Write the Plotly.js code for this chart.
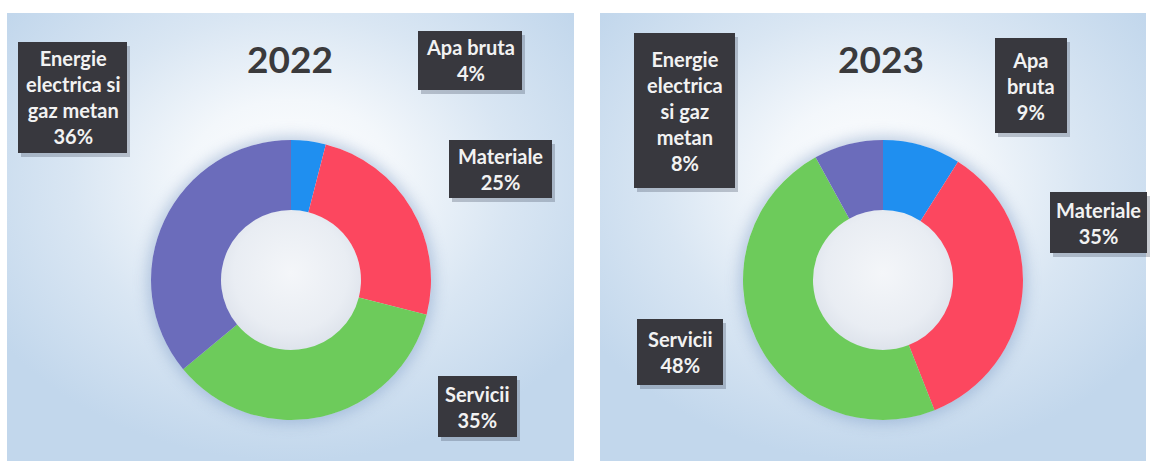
<!DOCTYPE html>
<html>
<head>
<meta charset="utf-8">
<script src="https://cdn.plot.ly/plotly-3.0.1.min.js"></script>
<style>
  html, body { margin: 0; padding: 0; background: #ffffff; width: 1151px; height: 463px; overflow: hidden; }
  .panel { position: absolute; }
  #p1 { left: 7px; top: 13px; width: 567px; height: 448px;
        background: radial-gradient(ellipse 62% 62% at 50% 38%, #ffffff 0%, #f3f7fb 30%, #d9e6f3 62%, #c2d7ec 100%); }
  #p2 { left: 600px; top: 13px; width: 546px; height: 448px;
        background: radial-gradient(ellipse 62% 62% at 50% 38%, #ffffff 0%, #f3f7fb 30%, #d9e6f3 62%, #c2d7ec 100%); }
  .glow { position: absolute; border-radius: 50%; box-shadow: 0 0 14px 4px rgba(120,150,195,0.45); }
  .hole { position: absolute; border-radius: 50%;
          background: radial-gradient(circle at 50% 45%, #f4f6f9 0%, #e9edf3 55%, #cfd6e2 100%); }
  #chart { position: absolute; left: 0; top: 0; width: 1151px; height: 463px; }
</style>
</head>
<body>
<div class="panel" id="p1"></div>
<div class="panel" id="p2"></div>
<div class="glow" style="left:151px;top:140px;width:280px;height:280px;"></div>
<div class="glow" style="left:743px;top:140px;width:280px;height:280px;"></div>
<div class="hole" style="left:221px;top:210px;width:140px;height:140px;"></div>
<div class="hole" style="left:813px;top:210px;width:140px;height:140px;"></div>
<div id="chart"></div>
<script>
// ---- data ----
const categories = ["Apa bruta", "Materiale", "Servicii", "Energie electrica si gaz metan"];
const values2022 = [4, 25, 35, 36];
const values2023 = [9, 35, 48, 8];
const labelText2022 = ["Apa bruta", "Materiale", "Servicii", "Energie<br>electrica si<br>gaz metan"];
const labelText2023 = ["Apa<br>bruta", "Materiale", "Servicii", "Energie<br>electrica<br>si gaz<br>metan"];
const years = ["2022", "2023"];
const sliceColors = ["#1f8ff0", "#fc475f", "#6dcb5b", "#6b6cbb"];

// ---- layout config (pixel positions) ----
const W = 1151, H = 463;
const donutBoxes = [[151, 140, 431, 420], [743, 140, 1023, 420]];
const titlePos = [[290, 59], [881, 59]];
const labelBoxes = [
  [[418, 31, 522, 90], [449, 140, 552, 198], [438, 376, 517, 437], [18, 42, 127, 153]],
  [[995, 38, 1067, 133], [1050, 192, 1147, 253], [637, 319, 723, 385], [634, 33, 735, 188]]
];

const px = x => x / W;
const py = y => 1 - y / H;

const valueSets = [values2022, values2023];
const textSets = [labelText2022, labelText2023];

const traces = valueSets.map((vals, i) => ({
  type: "pie",
  labels: categories,
  values: vals,
  hole: 0.5,
  sort: false,
  direction: "clockwise",
  rotation: 0,
  textinfo: "none",
  hoverinfo: "label+percent",
  marker: { colors: sliceColors, line: { width: 0 } },
  domain: { x: [px(donutBoxes[i][0]), px(donutBoxes[i][2])], y: [py(donutBoxes[i][3]), py(donutBoxes[i][1])] },
  showlegend: false
}));

const shapes = [];
const annotations = [];
years.forEach((yr, i) => {
  annotations.push({
    xref: "paper", yref: "paper", x: px(titlePos[i][0]), y: py(titlePos[i][1]),
    xanchor: "center", yanchor: "middle", showarrow: false, text: yr,
    font: { family: "Lato, 'Open Sans', sans-serif", size: 37, color: "#3a3a3c", weight: 700 }
  });
  labelBoxes[i].forEach((b, k) => {
    shapes.push({ type: "rect", xref: "paper", yref: "paper", layer: "above",
      x0: px(b[0] + 3), x1: px(b[2] + 3), y0: py(b[3] + 4), y1: py(b[1] + 4),
      fillcolor: "rgba(70,80,100,0.30)", line: { width: 0 } });
    shapes.push({ type: "rect", xref: "paper", yref: "paper", layer: "above",
      x0: px(b[0]), x1: px(b[2]), y0: py(b[3]), y1: py(b[1]),
      fillcolor: "#38383e", line: { width: 0 } });
    annotations.push({
      xref: "paper", yref: "paper", x: px((b[0] + b[2]) / 2), y: py((b[1] + b[3]) / 2),
      xanchor: "center", yanchor: "middle", showarrow: false, align: "center",
      text: textSets[i][k] + "<br>" + valueSets[i][k] + "%",
      font: { family: "Lato, 'Open Sans', sans-serif", size: 20, color: "#f2f2f2", weight: 700 }
    });
  });
});

const layout = {
  width: W, height: H,
  margin: { l: 0, r: 0, t: 0, b: 0, pad: 0 },
  paper_bgcolor: "rgba(0,0,0,0)",
  plot_bgcolor: "rgba(0,0,0,0)",
  shapes: shapes,
  annotations: annotations,
  showlegend: false
};

Plotly.newPlot("chart", traces, layout, { displayModeBar: false, staticPlot: true });
</script>
</body>
</html>
